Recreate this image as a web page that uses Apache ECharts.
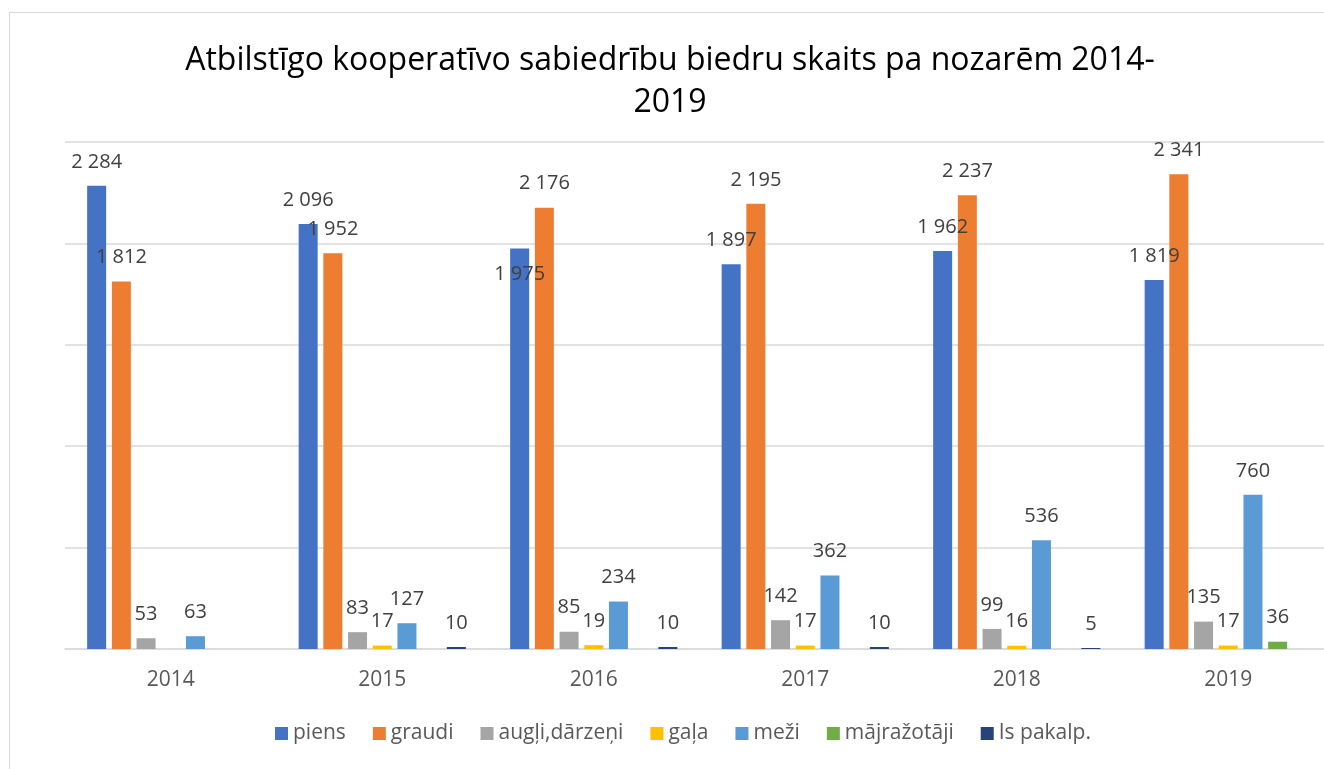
<!DOCTYPE html>
<html>
<head>
<meta charset="utf-8">
<script src="https://cdn.jsdelivr.net/npm/echarts@6/dist/echarts.min.js"></script>
<style>
  html, body { margin: 0; padding: 0; background: #fff; overflow: hidden; }
  #frame { position: absolute; left: 9px; top: 12px; width: 1400px; height: 800px; border: 1.5px solid #d9d9d9; }
  #chart { position: absolute; left: 0; top: 0; width: 1340px; height: 769px; }
</style>
</head>
<body>
<div id="frame"></div>
<div id="chart"></div>
<script>
var years = ['2014', '2015', '2016', '2017', '2018', '2019']
var seriesNames = ['piens', 'graudi', 'augļi,dārzeņi', 'gaļa', 'meži', 'mājražotāji', 'Is pakalp.']
var piens = [2284, 2096, 1975, 1897, 1962, 1819]
var graudi = [1812, 1952, 2176, 2195, 2237, 2341]
var augli = [53, 83, 85, 142, 99, 135]
var gala = [null, 17, 19, 17, 16, 17]
var mezi = [63, 127, 234, 362, 536, 760]
var majrazotaji = [null, null, null, null, null, 36]
var isPakalp = [null, 10, 10, 10, 5, null]
var colors = ['#4472C4', '#ED7D31', '#A5A5A5', '#FFC000', '#5B9BD5', '#70AD47', '#264478']

var font = '"Open Sans", "Noto Sans", sans-serif'

function fmt(v) {
  return String(v).replace(/\B(?=(\d{3})+(?!\d))/g, ' ')
}

var allData = [piens, graudi, augli, gala, mezi, majrazotaji, isPakalp]

var chart = echarts.init(document.getElementById('chart'))

var series = allData.map(function(arr, i) {
  return {
    name: seriesNames[i],
    type: 'bar',
    barWidth: 19,
    barGap: '30%',
    itemStyle: { color: colors[i] },
    label: {
      show: true,
      position: 'top',
      distance: 14,
      color: '#404040',
      fontFamily: font,
      fontSize: 20,
      formatter: function(p) { return fmt(p.value) }
    },
    data: arr.map(function(v, j) {
      // Excel had this one label dragged below the bar top
      if (i === 0 && j === 2) {
        return { value: v, label: { offset: [0, 50] } }
      }
      return v
    })
  }
})

chart.setOption({
  animation: false,
  title: {
    text: 'Atbilstīgo kooperatīvo sabiedrību biedru skaits pa nozarēm 2014-\n2019',
    left: 'center',
    top: 35,
    textStyle: {
      fontFamily: font,
      fontSize: 32,
      fontWeight: 'normal',
      color: '#000',
      lineHeight: 42
    }
  },
  legend: {
    bottom: 20,
    left: 270,
    itemWidth: 13,
    itemHeight: 13,
    itemGap: 27,
    icon: 'rect',
    textStyle: { fontFamily: font, fontSize: 21, color: '#595959' },
    data: seriesNames
  },
  grid: {
    left: 65,
    right: 6,
    top: 142,
    bottom: 120
  },
  xAxis: {
    type: 'category',
    data: years,
    axisTick: { show: false },
    axisLine: { lineStyle: { color: '#d9d9d9', width: 1.5 } },
    axisLabel: { fontFamily: font, fontSize: 21, color: '#595959', margin: 21 }
  },
  yAxis: {
    type: 'value',
    min: 0,
    max: 2500,
    interval: 500,
    axisLabel: { show: false },
    axisLine: { show: false },
    axisTick: { show: false },
    splitLine: { lineStyle: { color: '#d9d9d9', width: 1.5 } }
  },
  series: series
})
</script>
</body>
</html>
